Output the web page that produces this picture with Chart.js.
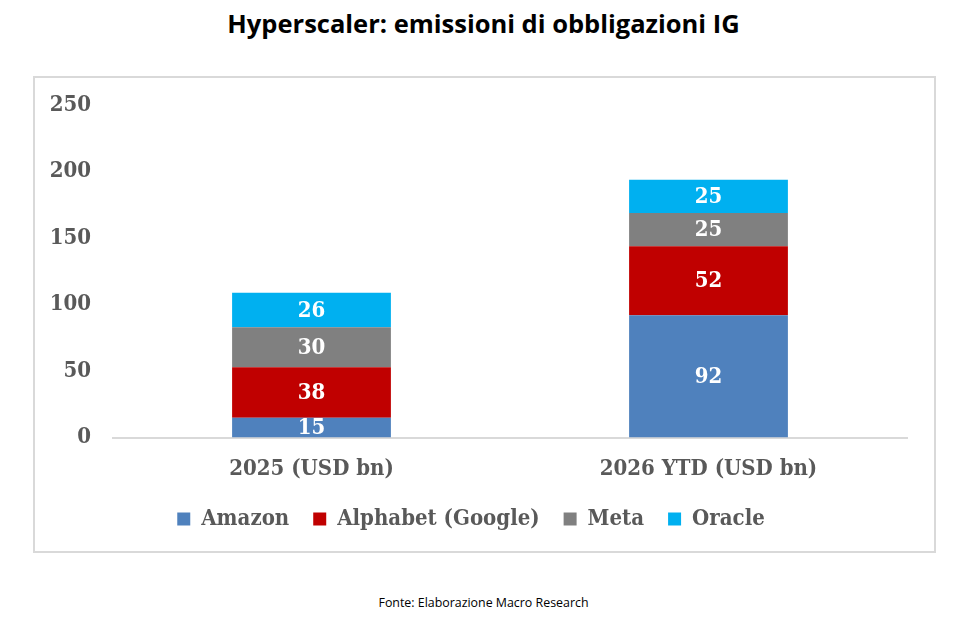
<!DOCTYPE html>
<html>
<head>
<meta charset="utf-8">
<script src="https://cdn.jsdelivr.net/npm/chart.js@4.4.1/dist/chart.umd.min.js"></script>
<style>
  body { margin: 0; background: #fff; width: 967px; height: 619px; position: relative; overflow: hidden; }
  #title { position: absolute; left: 0; top: 6px; width: 967px; text-align: center;
    font: bold 25.5px "Open Sans", sans-serif; color: #000; }
  #box { position: absolute; left: 33px; top: 76px; width: 899px; height: 473px;
    border: 2px solid #d9d9d9; }
  #source { position: absolute; left: 0; top: 594px; width: 967px; text-align: center;
    font: 12.4px "Open Sans", sans-serif; color: #000; }
</style>
</head>
<body>
<div id="title">Hyperscaler: emissioni di obbligazioni IG</div>
<div id="box"><canvas id="chart" width="899" height="473"></canvas></div>
<div id="source">Fonte: Elaborazione Macro Research</div>
<script>
const categories = ['2025 (USD bn)', '2026 YTD (USD bn)'];
const amazon = [15, 92];
const alphabet = [38, 52];
const meta = [30, 25];
const oracle = [26, 25];
const yTicks = [0, 50, 100, 150, 200, 250];

const serif = "'DejaVu Serif Condensed', 'DejaVu Serif', serif";
const grey = '#595959';

// white value labels centred in each segment
const segmentLabels = {
  id: 'segmentLabels',
  afterDatasetsDraw(chart) {
    const ctx = chart.ctx;
    ctx.save();
    ctx.font = 'bold 22px ' + serif;
    ctx.fillStyle = '#fff';
    ctx.textAlign = 'center';
    ctx.textBaseline = 'middle';
    chart.data.datasets.forEach((ds, i) => {
      chart.getDatasetMeta(i).data.forEach((bar, j) => {
        const mid = (bar.y + bar.base) / 2;
        ctx.fillText(ds.data[j], bar.x, mid + 1);
      });
    });
    ctx.restore();
  }
};

new Chart(document.getElementById('chart'), {
  type: 'bar',
  data: {
    labels: categories,
    datasets: [
      { label: 'Amazon', data: amazon, backgroundColor: '#4f81bd' },
      { label: 'Alphabet (Google)', data: alphabet, backgroundColor: '#c00000' },
      { label: 'Meta', data: meta, backgroundColor: '#808080' },
      { label: 'Oracle', data: oracle, backgroundColor: '#00b0f0' }
    ]
  },
  options: {
    responsive: false,
    animation: false,
    datasets: { bar: { barPercentage: 0.4, categoryPercentage: 1 } },
    layout: { padding: { top: 17, right: 27, bottom: 11, left: 0 } },
    scales: {
      x: {
        stacked: true,
        grid: { display: false },
        border: { color: '#d9d9d9', width: 2 },
        afterFit(scale) { scale.height -= 8; },
        ticks: { color: grey, padding: 10, font: { family: serif, size: 22, weight: 'bold' } }
      },
      y: {
        stacked: true,
        min: 0,
        max: 250,
        afterBuildTicks(scale) { scale.ticks = yTicks.map(v => ({ value: v })); },
        afterFit(scale) { scale.width = 78; },
        grid: { display: false },
        border: { display: false },
        ticks: { color: grey, padding: 14, font: { family: serif, size: 22, weight: 'bold' } }
      }
    },
    plugins: {
      legend: {
        position: 'bottom',
        labels: {
          boxWidth: 13,
          boxHeight: 13,
          padding: 24,
          color: grey,
          font: { family: serif, size: 22, weight: 'bold' }
        }
      },
      tooltip: { enabled: false }
    }
  },
  plugins: [segmentLabels]
});
</script>
</body>
</html>
